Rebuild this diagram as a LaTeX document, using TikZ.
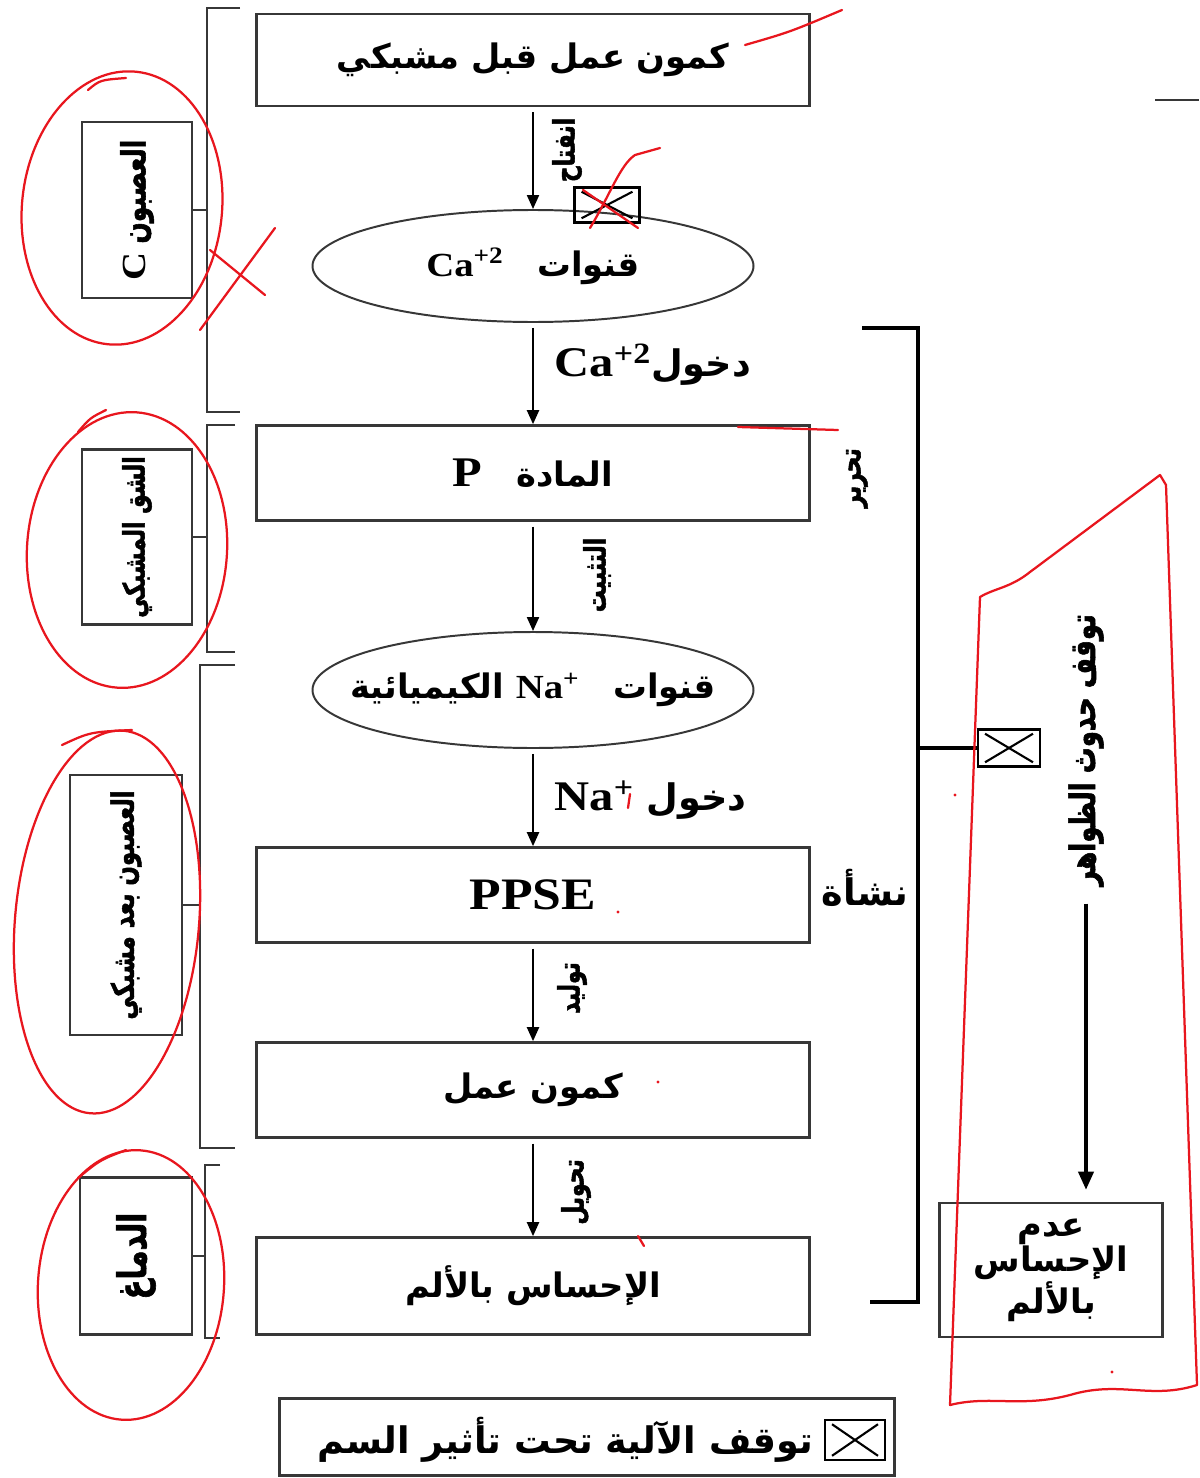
\documentclass[tikz,border=0pt]{standalone}
\usepackage{fontspec}
\newfontfamily\arabicfont[Script=Arabic]{DejaVu Sans}
\newfontfamily\arabicnarrow[Script=Arabic, FakeStretch=0.74, FakeBold=1.6]{DejaVu Sans}
\newfontfamily\latinfont[FakeStretch=1.15]{Liberation Serif}
\TeXXeTstate=1
\usetikzlibrary{shapes.geometric, arrows.meta, positioning, calc}
\definecolor{boxgray}{RGB}{55, 55, 55}
\definecolor{penred}{RGB}{232, 22, 30}
\newcommand{\pix}{0.025cm}
\newcommand{\artxt}[1]{{\arabicfont\bfseries\beginR #1\endR}}
\newcommand{\artnar}[1]{{\arabicnarrow\bfseries\beginR #1\endR}}
\newcommand{\latn}[1]{\beginL{\latinfont\bfseries #1}\endL}
\newcommand{\fsz}[1]{\fontsize{#1}{#1}\selectfont}

\tikzset{
  stage/.style={draw=boxgray, line width=1.9pt, minimum width=553*\pix, minimum height=95*\pix,
    inner sep=0pt, font=\fsz{24}},
  channel/.style={ellipse, draw=boxgray, line width=1.4pt, minimum width=441*\pix, minimum height=112*\pix,
    inner sep=0pt, font=\fsz{24}},
  partbox/.style={draw=boxgray, line width=1.9pt, rotate=90, minimum height=110*\pix, inner sep=0pt},
  flowlabel/.style={inner sep=1pt, font=\fsz{26}},
  sidelabel/.style={inner sep=1pt, rotate=90, font=\fsz{21}},
  flow/.style={-{Triangle[length=3.5mm, width=3mm]}, line width=1.5pt, shorten <=1.2mm},
  brace/.style={boxgray, line width=2pt},
  bigbrace/.style={black, line width=3pt},
  xbox/.style={draw, line width=1.9pt, minimum width=62*\pix, minimum height=37*\pix, inner sep=0pt,
    path picture={
      \draw[line width=1.5pt] ([shift={(5pt,3pt)}]path picture bounding box.south west)
        -- ([shift={(-5pt,-3pt)}]path picture bounding box.north east);
      \draw[line width=1.5pt] ([shift={(5pt,-3pt)}]path picture bounding box.north west)
        -- ([shift={(-5pt,3pt)}]path picture bounding box.south east);
    }},
  penmark/.style={penred, line width=1.6pt, line cap=round, line join=round},
}

\begin{document}
\begin{tikzpicture}[x=\pix, y=-\pix]
  \useasboundingbox (0,0) rectangle (1199,1478);

  % main chain
  \node[stage, minimum height=92*\pix] (pre) at (533,60) {\artxt{كمون عمل قبل مشبكي}};
  \node[channel] (cach) at (533,266) {\artxt{قنوات\quad\latn{Ca\textsuperscript{+2}}}};
  \node[stage] (subp) at (533,473) {\artxt{المادة\quad{\fsz{30}\latn{P}}}};
  \node[channel, minimum height=116*\pix, inner xsep=-0.7cm] (nach) at (533,690)
    {\artxt{قنوات\quad\latn{Na\textsuperscript{+}} الكيميائية}};
  \node[stage, font=\fsz{32}] (ppse) at (533,895) {\latn{PPSE}};
  \node[stage] (ap) at (533,1090) {\artxt{كمون عمل}};
  \node[stage, minimum height=97*\pix] (pain) at (533,1286) {\artxt{الإحساس بالألم}};

  \draw[flow] (pre) -- (cach);
  \draw[flow] (cach) -- (subp);
  \draw[flow] (subp) -- (nach);
  \draw[flow] (nach) -- (ppse);
  \draw[flow] (ppse) -- (ap);
  \draw[flow] (ap) -- (pain);

  % arrow labels
  \node[sidelabel] (lopen) at (567,150) {\artnar{انفتاح}};
  \node[xbox, minimum width=65*\pix, minimum height=35*\pix] (xca) at (607,205) {};
  \node[flowlabel, anchor=west] (lcain) at (553,365) {\artxt{دخول{\fsz{30}\latn{Ca\textsuperscript{+2}}}}};
  \node[sidelabel] (lfix) at (597,575) {\artnar{التثبيت}};
  \node[flowlabel, anchor=west] (lnain) at (553,800) {\artxt{دخول\ {\fsz{30}\latn{Na\textsuperscript{+}}}}};
  \node[sidelabel] (lgen) at (572,988) {\artnar{توليد}};
  \node[sidelabel] (lconv) at (576,1192) {\artnar{تحويل}};
  \node[sidelabel] (lrel) at (857,478) {\artnar{تحرير}};
  \node[flowlabel] (lorig) at (865,888) {\artxt{نشأة}};

  % parts of the pathway
  \node[partbox, minimum width=176*\pix, font=\fsz{24}] (neuc) at (137,210) {\artnar{العصبون \latn{C}}};
  \node[partbox, minimum width=175*\pix, font=\fsz{21}] (cleft) at (137,537) {\artnar{الشق المشبكي}};
  \node[partbox, minimum width=260*\pix, minimum height=112*\pix, font=\fsz{22}] (neupost) at (126,905)
    {\artnar{العصبون بعد مشبكي}};
  \node[partbox, minimum width=157*\pix, minimum height=112*\pix, font=\fsz{28}] (brain) at (136,1256) {\artnar{الدماغ}};

  \foreach \part/\top/\bot/\xx/\arm in {neuc/8/412/207/240, cleft/425/652/207/235,
      neupost/665/1148/200/235, brain/1165/1338/205/220} {
    \draw[brace] (\arm,\top) -- (\xx,\top) -- (\xx,\bot) -- (\arm,\bot);
    \coordinate (tick) at (\xx,0);
    \draw[brace] (\part.south) -- (\part.south -| tick);
  }

  % effect of the toxin
  \draw[bigbrace] (862,328) -- (918,328) -- (918,1302) -- (870,1302);
  \coordinate (rmid) at (918,748);
  \node[xbox] (xstop) at (1009,748) {};
  \draw[bigbrace] (rmid) -- (xstop.west);
  \node[sidelabel, font=\fsz{25}] (lstop) at (1086,750) {\artnar{توقف حدوث الظواهر}};
  \node[draw=boxgray, line width=1.9pt, minimum width=223*\pix, minimum height=134*\pix, align=center,
    inner sep=0pt, font=\fontsize{24}{25}\selectfont] (nopain) at (1051,1270)
    {\artxt{عدم}\\ \artxt{الإحساس}\\ \artxt{بالألم}};
  \draw[-{Triangle[length=4.5mm, width=3.8mm]}, line width=2.4pt, shorten <=4mm, shorten >=3mm]
    (lstop.west) -- (lstop.west |- nopain.north);

  % legend
  \node[draw=boxgray, line width=1.9pt, minimum width=615*\pix, minimum height=77*\pix] (legend) at (587,1437) {};
  \node[xbox, minimum width=60*\pix, minimum height=40*\pix] (xlegend) at (855,1440) {};
  \node[flowlabel, anchor=east] (llegend) at (815,1440) {\artxt{توقف الآلية تحت تأثير السم}};

  \draw[boxgray, line width=1.4pt] (1155,100) -- (1199,100);

  % red pen marks
  \begin{scope}[penmark]
    \draw[rotate around={-6:(122,208)}] (122,208) ellipse [x radius=100*\pix, y radius=137*\pix];
    \draw (88,90) .. controls (100,80) .. (126,78);
    \draw[rotate around={-4:(127,550)}] (127,550) ellipse [x radius=100*\pix, y radius=138*\pix];
    \draw (78,432) .. controls (90,418) .. (106,410);
    \draw[rotate around={-5:(107,922)}] (107,922) ellipse [x radius=92*\pix, y radius=192*\pix];
    \draw (62,745) .. controls (90,732) .. (132,730);
    \draw[rotate around={-4:(131,1285)}] (131,1285) ellipse [x radius=93*\pix, y radius=135*\pix];
    \draw (78,1178) .. controls (100,1160) .. (126,1150);
    \draw (200,330) -- (275,228);
    \draw (210,250) -- (265,295);
    \draw (583,190) -- (638,228);
    \draw (590,228) .. controls (610,195) and (620,165) .. (635,155) -- (660,148);
    \draw (745,45) .. controls (790,32) .. (842,10);
    \draw (738,427) -- (838,430);
    \draw (638,1236) -- (644,1246);
    \draw (630,794) -- (628,808);
    \fill[penred] (618,912) circle (1.2pt) (658,1082) circle (1.2pt) (955,795) circle (1.2pt) (1112,1372) circle (1.2pt);
    \draw (980,597) .. controls (995,588) and (1010,588) .. (1030,572) -- (1160,475) -- (1166,485)
      -- (1197,1385) .. controls (1150,1400) and (1120,1380) .. (1070,1395)
      .. controls (1020,1408) and (990,1395) .. (950,1405) -- cycle;
  \end{scope}
\end{tikzpicture}
\end{document}
